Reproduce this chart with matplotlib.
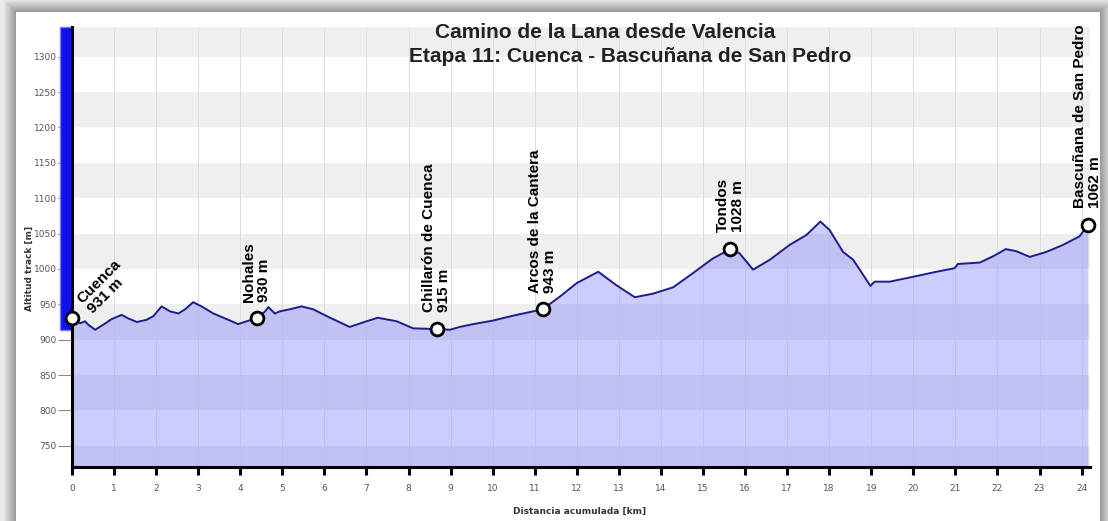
#!/usr/bin/env python3
# -*- coding: utf-8 -*-

import numpy as np
import matplotlib
matplotlib.use("Agg")
import matplotlib.pyplot as plt
from matplotlib.patches import Rectangle

# ====== DATA ======
km = [0, 0.19, 0.31, 0.39, 0.55, 0.74, 0.94, 1.18, 1.34, 1.54, 1.77, 1.93, 2.13, 2.33,
      2.53, 2.69, 2.88, 3.08, 3.36, 3.68, 3.95, 4.15, 4.39, 4.59, 4.67, 4.82, 4.94, 5.18,
      5.46, 5.73, 6.1, 6.6, 7.0, 7.27, 7.72, 8.11, 8.67, 8.98, 9.22, 9.54, 10.01, 10.49,
      10.96, 11.19, 11.6, 12.0, 12.51, 12.94, 13.38, 13.81, 14.29, 14.76, 15.24, 15.65,
      15.87, 16.19, 16.59, 17.06, 17.46, 17.79, 18.01, 18.33, 18.57, 18.98, 19.08, 19.44,
      20.0, 20.55, 20.98, 21.06, 21.58, 21.9, 22.2, 22.45, 22.77, 23.16, 23.56, 23.95, 24.15]
elev = [931, 923, 926, 921, 914, 921, 929, 935, 930, 925, 928, 933, 947, 940,
        937, 943, 953, 947, 937, 929, 922, 926, 930, 940, 946, 937, 940, 943,
        947, 943, 932, 918, 926, 931, 926, 916, 915, 914, 918, 922, 927, 934,
        940, 943, 961, 980, 996, 977, 960, 965, 974, 994, 1015, 1028,
        1022, 999, 1013, 1034, 1048, 1067, 1055, 1024, 1013, 976, 982, 982,
        989, 996, 1001, 1007, 1009, 1018, 1028, 1025, 1017, 1024, 1034, 1046, 1062]

wp_names = ["Cuenca", "Nohales", "Chillarón de Cuenca", "Arcos de la Cantera",
            "Tondos", "Bascuñana de San Pedro"]
wp_km = [0, 4.39, 8.67, 11.19, 15.65, 24.15]
wp_elev = [931, 930, 915, 943, 1028, 1062]

x_ticks = list(range(0, 25))
y_ticks = [750, 800, 850, 900, 950, 1000, 1050, 1100, 1150, 1200, 1250, 1300]

W, H = 1108, 521

fig = plt.figure(figsize=(W / 100, H / 100), dpi=100)

# ====== RAMA / SOMBRA ======
bg = fig.add_axes([0, 0, 1, 1])
bg.set_axis_off()
yy, xx = np.mgrid[0:H, 0:W]
dx = np.maximum(np.maximum(16 - xx, xx - 1099), 0)
dy = np.maximum(12 - yy, 0)
d = np.maximum(dx, dy)
shade = np.where(d > 0, np.clip(0.58 + 0.026 * d, 0, 0.92), 1.0)
bg.imshow(shade, cmap="gray", vmin=0, vmax=1, extent=[0, W, H, 0], aspect="auto")
bg.set_xlim(0, W)
bg.set_ylim(H, 0)

# ====== GRAF ======
ax = fig.add_axes([72 / W, 54 / H, (1090 - 72) / W, (467 - 27) / H])
ax.set_facecolor("white")
ax.set_xlim(0, 24.2)
ax.set_ylim(720, 1342)

for lo in range(700, 1350, 100):
    ax.axhspan(lo, lo + 50, color="#efefef", zorder=0, lw=0)
for t in x_ticks:
    ax.axvline(t, color="#e6e6e6", lw=0.7, zorder=1)

ax.fill_between(km, elev, 720, color="#6666ff", alpha=0.33, lw=0, zorder=2)
for t in x_ticks:
    ax.axvline(t, color="#c4c4ee", lw=0.6, alpha=0.35, zorder=2.5)
ax.plot(km, elev, color="#1c1c8a", lw=1.4, zorder=3)

ax.plot(wp_km, wp_elev, "o", ms=9.2, mfc="white", mec="black", mew=2.0,
        zorder=5, clip_on=False)

for name, xk, ye in zip(wp_names, wp_km, wp_elev):
    lbl = f"{name}\n{ye} m"
    if name == "Cuenca":
        ax.annotate(lbl, (xk, ye), xytext=(17, 1), textcoords="offset points",
                    rotation=45, rotation_mode="anchor", ha="left", va="bottom",
                    fontsize=11, fontweight="bold", family="Liberation Sans",
                    linespacing=1.1, zorder=6)
    else:
        ax.annotate(lbl, (xk, ye), xytext=(0, 12), textcoords="offset points",
                    rotation=90, ha="center", va="bottom", multialignment="left",
                    fontsize=11, fontweight="bold", family="Liberation Sans",
                    linespacing=1.1, zorder=6, annotation_clip=False)

# modrý pruh vlevo
ax.add_patch(Rectangle((-0.285, 913), 0.285, 1342 - 913, facecolor="#0f0ff2",
                       edgecolor="#7a7aff", lw=1, clip_on=False, zorder=4))

for s in ["top", "right"]:
    ax.spines[s].set_visible(False)
ax.spines["left"].set_linewidth(2.2)
ax.spines["bottom"].set_linewidth(2.2)
ax.spines["left"].set_zorder(4.5)

ax.set_xticks(x_ticks)
ax.set_yticks(y_ticks)
ax.tick_params(axis="x", length=6, width=2.2, color="black", pad=6,
               labelsize=6.5, labelcolor="#555555")
ax.tick_params(axis="y", length=10, width=0.8, color="#888888", pad=1,
               labelsize=6.5, labelcolor="#555555")

fig.text(580 / W, 1 - 511 / H, "Distancia acumulada [km]", ha="center", va="center",
         fontsize=6.5, fontweight="bold", color="#333333")
fig.text(29 / W, 1 - 268 / H, "Altitud track [m]", ha="center", va="center",
         rotation=90, fontsize=6.5, fontweight="bold", color="#333333")

fig.text(605 / W, 1 - 32 / H, "Camino de la Lana desde Valencia", ha="center",
         va="center", fontsize=15, fontweight="bold", family="Liberation Sans",
         color="#222222")
fig.text(630 / W, 1 - 56 / H, "Etapa 11: Cuenca - Bascuñana de San Pedro",
         ha="center", va="center", fontsize=15, fontweight="bold",
         family="Liberation Sans", color="#222222")

fig.savefig("out.png", dpi=100)
